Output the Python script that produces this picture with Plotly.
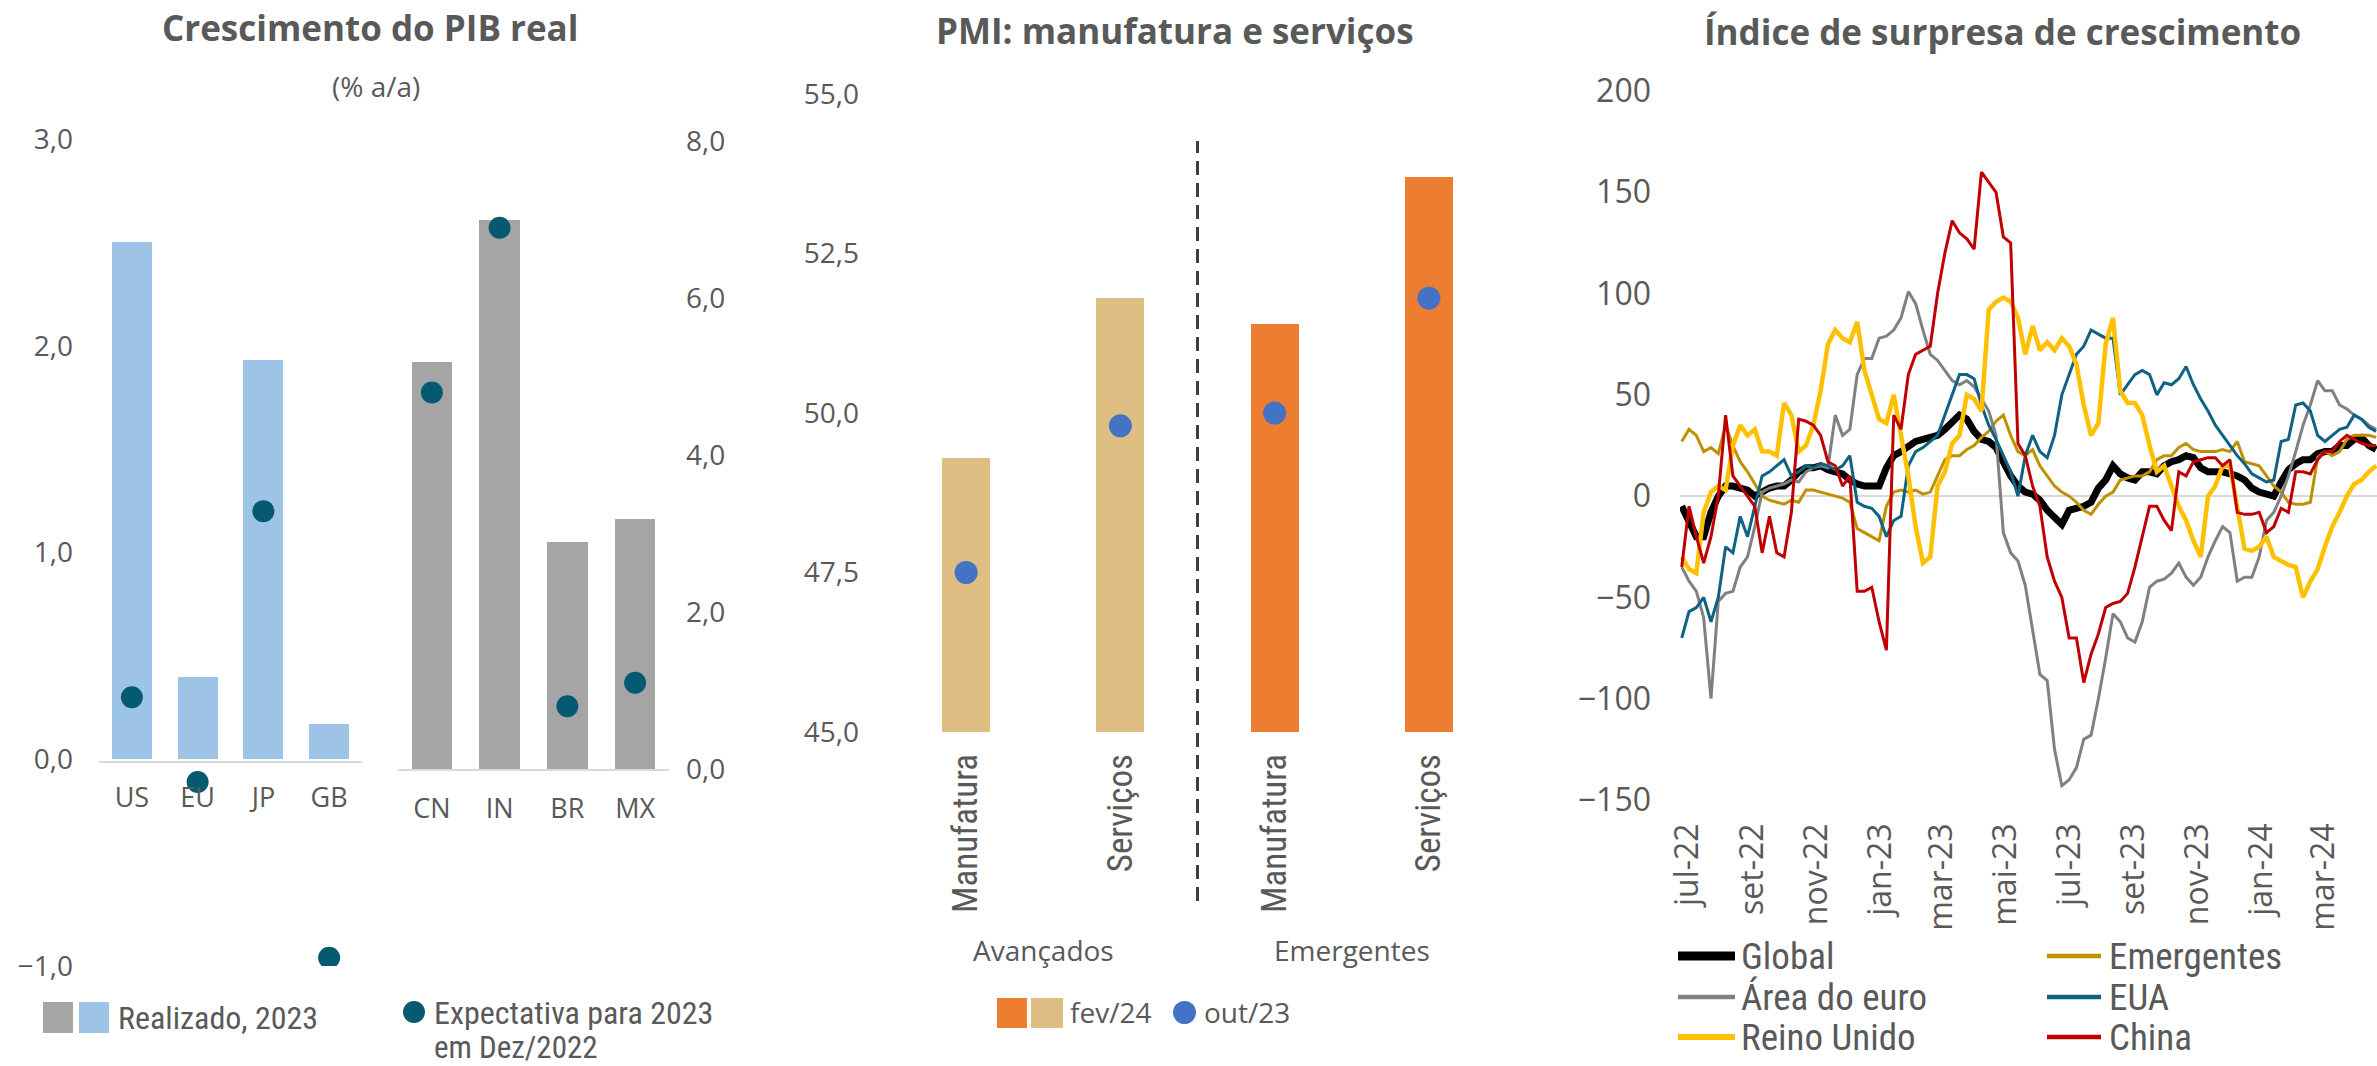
import pandas as pd
import plotly.graph_objects as go

W, H = 2377, 1066
TXT = "#595959"
AX = "#D9D9D9"
SANS = "Open Sans, DejaVu Sans, sans-serif"
NARROW = "Liberation Sans Narrow, Roboto Condensed, DejaVu Sans Condensed, sans-serif"

# ---------------- Crescimento do PIB real ----------------
adv_countries = ["US", "EU", "JP", "GB"]
adv_real_2023 = [2.5, 0.4, 1.93, 0.17]
adv_expect_dec22 = [0.3, -0.11, 1.2, -0.96]

em_countries = ["CN", "IN", "BR", "MX"]
em_real_2023 = [5.2, 7.0, 2.9, 3.2]
em_expect_dec22 = [4.8, 6.9, 0.8, 1.1]

# ---------------- PMI ----------------
pmi_groups = ["Avançados", "Avançados", "Emergentes", "Emergentes"]
pmi_sectors = ["Manufatura", "Serviços", "Manufatura", "Serviços"]
pmi_feb24 = [49.3, 51.8, 51.4, 53.7]
pmi_oct23 = [47.5, 49.8, 50.0, 51.8]

# ---------------- Índice de surpresa (weekly) ----------------
surprise_dates = pd.date_range("2022-06-25", periods=96, freq="7D")

global_idx = [
    -5, -12, -20, -20, -8, 0, 5, 5, 4, 3, 0, 2, 4, 5, 5, 8, 12, 14, 14, 15,
    13, 12, 11, 8, 6, 5, 5, 5, 14, 20, 22, 25, 27, 28, 29, 30, 33, 36, 40, 38,
    32, 28, 27, 24, 17, 10, 5, 2, 1, -2, -7, -11, -14, -7, -6, -5, -3, 4, 8, 15,
    11, 9, 8, 12, 12, 11, 15, 17, 18, 20, 19, 14, 12, 12, 12, 11, 10, 8, 4, 2,
    1, 0, 7, 13, 16, 18, 18, 21, 22, 22, 25, 25, 28, 29, 25, 23,
]
emergentes = [
    27, 33, 30, 22, 24, 21, 35, 25, 17, 12, 6, 0, -2, -3, -4, -2, -3, 3, 3, 2,
    1, 0, -1, -3, -16, -18, -20, -22, -5, 2, 3, 2, 3, 1, 2, 10, 18, 20, 20, 23,
    25, 29, 32, 37, 40, 30, 22, 20, 23, 15, 10, 5, 2, 0, -3, -7, -9, -4, 0, 2,
    8, 9, 10, 10, 12, 18, 20, 20, 24, 26, 23, 22, 22, 22, 23, 22, 27, 17, 16, 15,
    10, 5, 2, -3, -4, -4, -3, 19, 22, 20, 22, 28, 30, 30, 30, 29,
]
area_euro = [
    -35, -42, -47, -60, -100, -52, -48, -47, -35, -30, -15, 2, 4, 5, 6, 8, 7, 12, 14, 15,
    14, 40, 30, 33, 60, 68, 68, 78, 79, 82, 88, 101, 95, 82, 70, 67, 62, 57, 55, 57,
    54, 48, 42, 30, -18, -28, -32, -44, -65, -88, -91, -125, -143, -140, -134, -120, -118, -100, -80, -58,
    -62, -70, -72, -62, -45, -42, -41, -38, -33, -40, -44, -40, -30, -22, -15, -18, -42, -40, -40, -30,
    -12, -8, 0, 10, 22, 35, 45, 57, 52, 52, 45, 43, 40, 38, 35, 33,
]
eua = [
    -70, -57, -55, -50, -62, -50, -25, -28, -10, -20, -5, 10, 12, 15, 18, 10, 12, 15, 14, 16,
    15, 13, 15, 20, -3, -5, -6, -10, -20, -12, -10, 15, 22, 24, 27, 30, 40, 50, 60, 60,
    58, 45, 35, 28, 20, 12, 0, 20, 30, 22, 19, 30, 50, 60, 70, 74, 82, 80, 78, 78,
    50, 55, 60, 62, 60, 50, 56, 55, 58, 64, 55, 48, 42, 35, 30, 25, 20, 16, 11, 9,
    7, 8, 27, 28, 45, 46, 42, 30, 27, 30, 33, 34, 40, 38, 34, 32,
]
reino_unido = [
    -30, -36, -38, -8, 2, 5, 3, 25, 35, 30, 33, 22, 22, 20, 46, 40, 22, 25, 35, 52,
    75, 82, 78, 76, 86, 62, 50, 38, 36, 50, 30, 10, -15, -33, -30, 5, 12, 26, 30, 50,
    48, 42, 92, 96, 98, 96, 88, 70, 84, 72, 76, 72, 78, 74, 65, 45, 30, 36, 75, 88,
    52, 46, 46, 40, 25, 12, 15, 5, -5, -12, -22, -30, 0, 5, 15, 15, -5, -26, -27, -25,
    -20, -30, -32, -34, -35, -50, -42, -36, -25, -15, -8, 0, 6, 8, 12, 15,
]
china = [
    -35, -5, -20, -33, -20, 0, 40, 10, 5, 0, -5, -28, -10, -28, -30, -8, 38, 37, 35, 30,
    17, 15, 5, 10, -47, -47, -45, -62, -76, 40, 33, 60, 70, 72, 74, 100, 120, 136, 130, 127,
    122, 160, 155, 150, 128, 125, 26, 20, 5, -5, -30, -42, -50, -70, -70, -92, -78, -68, -55, -53,
    -52, -48, -35, -20, -5, -5, -12, -17, 12, 10, 17, 18, 19, 19, 15, 18, -8, -9, -9, -8,
    -18, -15, -6, -8, 12, 12, 11, 18, 22, 22, 27, 30, 28, 26, 25, 25,
]

surprise_series = [
    ("Global", global_idx, "#000000", 7),
    ("Emergentes", emergentes, "#BF9000", 3),
    ("Área do euro", area_euro, "#808080", 3),
    ("EUA", eua, "#0E6384", 3),
    ("Reino Unido", reino_unido, "#FFC000", 4.5),
    ("China", china, "#C00000", 3),
]

month_ticks = pd.to_datetime([
    "2022-07-01", "2022-09-01", "2022-11-01", "2023-01-01", "2023-03-01", "2023-05-01",
    "2023-07-01", "2023-09-01", "2023-11-01", "2024-01-01", "2024-03-01",
])
month_labels = ["jul-22", "set-22", "nov-22", "jan-23", "mar-23", "mai-23",
                "jul-23", "set-23", "nov-23", "jan-24", "mar-24"]


def fx(px):
    return px / W


def fy(py):
    return 1 - py / H


fig = go.Figure()

# PIB: advanced economies (left axis)
fig.add_trace(go.Bar(x=adv_countries, y=adv_real_2023, xaxis="x", yaxis="y",
                     marker=dict(color="#9DC3E6", line=dict(width=0)), width=0.61))
fig.add_trace(go.Scatter(x=adv_countries, y=adv_expect_dec22, xaxis="x", yaxis="y",
                         mode="markers", marker=dict(size=22, color="#055A72")))
# PIB: emerging economies (right axis)
fig.add_trace(go.Bar(x=em_countries, y=em_real_2023, xaxis="x2", yaxis="y2",
                     marker=dict(color="#A5A5A5", line=dict(width=0)), width=0.6))
fig.add_trace(go.Scatter(x=em_countries, y=em_expect_dec22, xaxis="x2", yaxis="y2",
                         mode="markers", marker=dict(size=22, color="#055A72")))

# PMI
pmi_keys = [f"{g} {s}" for g, s in zip(pmi_groups, pmi_sectors)]
pmi_colors = ["#DEBE82" if g == "Avançados" else "#ED7D31" for g in pmi_groups]
fig.add_trace(go.Bar(x=pmi_keys, y=[v - 45 for v in pmi_feb24], base=45,
                     xaxis="x3", yaxis="y3",
                     marker=dict(color=pmi_colors, line=dict(width=0)), width=0.31))
fig.add_trace(go.Scatter(x=pmi_keys, y=pmi_oct23, xaxis="x3", yaxis="y3",
                         mode="markers", marker=dict(size=23, color="#4472C4")))

# Surprise indices
for name, vals, color, lw in surprise_series:
    fig.add_trace(go.Scatter(x=surprise_dates, y=vals, xaxis="x4", yaxis="y4",
                             mode="lines", name=name,
                             line=dict(color=color, width=lw)))

tick_font = dict(family=SANS, size=27, color=TXT)
common = dict(automargin=False, showgrid=False, ticks="", zeroline=False)

fig.update_layout(
    template="none",
    width=W, height=H,
    margin=dict(l=0, r=0, t=0, b=0, pad=0),
    paper_bgcolor="white", plot_bgcolor="white",
    showlegend=False,
    separators=",.",
    bargap=0,
    xaxis=dict(domain=[fx(99), fx(362)], anchor="free", position=fy(762),
               type="category", range=[-0.5, 3.5], showline=True, linecolor=AX,
               linewidth=2, tickfont=tick_font, ticklabelstandoff=12, **common),
    yaxis=dict(domain=[fy(966), fy(139)], range=[-1, 3], dtick=1, tickformat=".1f",
               anchor="free", position=fx(99), showline=False,
               tickfont=dict(family=SANS, size=28, color=TXT),
               ticklabelstandoff=26, **common),
    xaxis2=dict(domain=[fx(398), fx(669)], anchor="y2", type="category",
                range=[-0.5, 3.5], showline=True, linecolor=AX, linewidth=2,
                tickfont=tick_font, ticklabelstandoff=15, **common),
    yaxis2=dict(domain=[fy(769), fy(141.5)], range=[0, 8], dtick=2, tickformat=".1f",
                side="right", anchor="free", position=fx(669), showline=False,
                tickfont=dict(family=SANS, size=28, color=TXT), ticklabelstandoff=16,
                **common),
    xaxis3=dict(domain=[fx(889), fx(1506)], anchor="y3", type="category",
                range=[-0.5, 3.5], showline=False,
                tickvals=pmi_keys, ticktext=pmi_sectors, tickangle=-90,
                tickfont=dict(family=NARROW, size=35, color=TXT), ticklabelstandoff=14,
                **common),
    yaxis3=dict(domain=[fy(732), fy(94)], range=[45, 55], dtick=2.5, tickformat=".1f",
                anchor="free", position=fx(889), showline=False,
                tickfont=dict(family=SANS, size=28, color=TXT),
                ticklabelstandoff=30, **common),
    xaxis4=dict(domain=[fx(1680), 1.0], anchor="y4", type="date",
                range=["2022-06-23 08:00", "2024-04-20 20:00"],
                tickvals=month_ticks, ticktext=month_labels, tickangle=-90,
                showline=False, tickfont=dict(family=SANS, size=32, color=TXT),
                ticklabelstandoff=16, **common),
    yaxis4=dict(domain=[fy(800), fy(91)], range=[-150, 200], dtick=50,
                anchor="x4", automargin=False, showgrid=False, ticks="",
                zeroline=True, zerolinecolor=AX, zerolinewidth=2,
                showline=False, tickfont=dict(family=SANS, size=32, color=TXT),
                ticklabelstandoff=28),
)

annotations = []
shapes = []


def text(x, y, s, size, family=SANS, xanchor="center", **kw):
    annotations.append(dict(x=x, y=y, xref="paper", yref="paper", text=s,
                            showarrow=False, xanchor=xanchor, yanchor="middle",
                            font=dict(family=family, size=size, color=TXT), **kw))


# panel titles
text(fx(370), fy(28), "<b>Crescimento do PIB real</b>", 35)
text(fx(376), fy(86), "(% a/a)", 28)
text(fx(1175), fy(30), "<b>PMI: manufatura e serviços</b>", 35)
text(fx(2002), fy(32), "<b>Índice de surpresa de crescimento</b>", 35)

# PMI group labels and divider
for xpos, label in [(0.5, "Avançados"), (2.5, "Emergentes")]:
    annotations.append(dict(x=xpos, y=fy(950), xref="x3", yref="paper", text=label,
                            showarrow=False, xanchor="center", yanchor="middle",
                            font=dict(family=SANS, size=28, color=TXT)))
shapes.append(dict(type="line", xref="x3", yref="paper", x0=1.5, x1=1.5,
                   y0=fy(901), y1=fy(141), line=dict(color="#404040", width=3, dash="14px,8px")))

# PIB legend
shapes.append(dict(type="rect", xref="paper", yref="paper", x0=fx(43), x1=fx(73),
                   y0=fy(1033), y1=fy(1002), fillcolor="#A5A5A5", line=dict(width=0)))
shapes.append(dict(type="rect", xref="paper", yref="paper", x0=fx(79), x1=fx(109),
                   y0=fy(1033), y1=fy(1002), fillcolor="#9DC3E6", line=dict(width=0)))
text(fx(116), fy(1018), "Realizado, 2023", 32, NARROW, xanchor="left")
shapes.append(dict(type="circle", xref="paper", yref="paper", x0=fx(403), x1=fx(425),
                   y0=fy(1023), y1=fy(1001), fillcolor="#055A72", line=dict(width=0)))
text(fx(432), fy(1013), "Expectativa para 2023", 32, NARROW, xanchor="left")
text(fx(432), fy(1047), "em Dez/2022", 31, NARROW, xanchor="left")

# PMI legend
shapes.append(dict(type="rect", xref="paper", yref="paper", x0=fx(997), x1=fx(1027),
                   y0=fy(1028), y1=fy(998), fillcolor="#ED7D31", line=dict(width=0)))
shapes.append(dict(type="rect", xref="paper", yref="paper", x0=fx(1031), x1=fx(1063),
                   y0=fy(1028), y1=fy(998), fillcolor="#DEBE82", line=dict(width=0)))
text(fx(1068), fy(1012), "fev/24", 28, xanchor="left")
shapes.append(dict(type="circle", xref="paper", yref="paper", x0=fx(1173), x1=fx(1196),
                   y0=fy(1024), y1=fy(1001), fillcolor="#4472C4", line=dict(width=0)))
text(fx(1202), fy(1012), "out/23", 28, xanchor="left")

# surprise legend (two columns)
legend_cells = [(0, 0), (1, 0), (0, 1), (1, 1), (0, 2), (1, 2)]
col_x = [(1678, 1735, 1739), (2047, 2101, 2107)]
row_y = [956, 997, 1037]
for (name, _, color, lw), (c, r) in zip(surprise_series, legend_cells):
    x0, x1, xt = col_x[c]
    shapes.append(dict(type="line", xref="paper", yref="paper", x0=fx(x0), x1=fx(x1),
                       y0=fy(row_y[r]), y1=fy(row_y[r]),
                       line=dict(color=color, width=9 if name == "Global" else lw + 1.5)))
    text(fx(xt), fy(row_y[r]), name, 37, NARROW, xanchor="left")

fig.update_layout(annotations=annotations, shapes=shapes)
fig.write_html("out.html")
